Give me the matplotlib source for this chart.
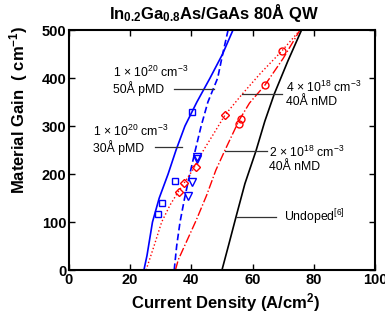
import matplotlib
matplotlib.use("Agg")
import matplotlib.pyplot as plt

plt.rcParams['font.family'] = ['Liberation Sans', 'DejaVu Sans']
plt.rcParams['mathtext.fontset'] = 'custom'
plt.rcParams['mathtext.rm'] = 'Liberation Sans'
plt.rcParams['mathtext.bf'] = 'Liberation Sans:bold'
plt.rcParams['mathtext.default'] = 'rm'

# curves (current density A/cm^2, gain cm^-1)
p30_j = [24.5, 25.5, 27.3, 29.5, 32.4, 35.0, 37.9, 41.8, 46.1, 50.2, 53.6]
p30_g = [0, 30, 100, 150, 200, 250, 300, 350, 400, 450, 500]
p50_j = [34.4, 35.2, 36.3, 37.8, 39.5, 41.3, 43.2, 45.4, 48.6, 50.3, 52.0]
p50_g = [0, 50, 100, 150, 200, 250, 300, 350, 400, 452, 500]
n4_j = [25.2, 27.8, 30.3, 33.0, 35.7, 37.6, 40.6, 44.0, 47.0, 51.0, 56.4, 62.6, 69.5, 75.5]
n4_g = [0, 50, 100, 135, 163, 181, 210, 250, 281, 323, 365, 410, 456, 500]
n2_j = [34.8, 35.7, 37.9, 41.6, 45.0, 48.0, 51.0, 55.6, 59.0, 64.0, 70.0, 75.5]
n2_g = [0, 21, 52, 104, 156, 208, 250, 312, 348, 385, 441, 500]
und_j = [50.0, 52.3, 54.6, 57.5, 61.1, 64.0, 67.1, 71.5, 76.0]
und_g = [0, 55, 111, 180, 248, 310, 367, 435, 500]

# measured points
sq_j = [29.0, 30.5, 34.7, 40.3]
sq_g = [116, 139, 186, 329]
tri_j = [38.8, 40.3, 41.7, 41.9]
tri_g = [154, 184, 231, 236]
dia_j = [35.9, 37.6, 41.4, 51.0]
dia_g = [163, 181, 215, 323]
circ_j = [55.6, 56.1, 64.2, 69.6]
circ_g = [304, 314, 385, 456]

fig = plt.figure(figsize=(3.85, 3.2), dpi=100)
ax = fig.add_axes([0.179, 0.156, 0.795, 0.75])

blue = '#0000ff'
red = '#ff0000'
ax.plot(p30_j, p30_g, color=blue, lw=1.2, ls='-')
ax.plot(p50_j, p50_g, color=blue, lw=1.2, ls=(0, (4, 2)))
ax.plot(n4_j, n4_g, color=red, lw=1.0, ls=':')
ax.plot(n2_j, n2_g, color=red, lw=1.0, ls='-.')
ax.plot(und_j, und_g, color='black', lw=1.2)

ms = 5
ax.plot(sq_j, sq_g, 's', ms=ms, mfc='none', mec=blue, mew=1)
ax.plot(tri_j, tri_g, 'v', ms=ms + 1, mfc='none', mec=blue, mew=1)
ax.plot(dia_j, dia_g, 'D', ms=ms - 0.5, mfc='none', mec=red, mew=1)
ax.plot(circ_j, circ_g, 'o', ms=ms, mfc='none', mec=red, mew=1)

# labels with leader lines
lc = '#333333'
fs = 8.8
ax.plot([34.3, 47.5], [377, 377], color=lc, lw=0.9)
ax.text(14.4, 395, '1 × 10$^{20}$ cm$^{-3}$\n50Å pMD', fontsize=fs,
        va='center', ha='left', linespacing=1.1)
ax.plot([28.1, 36.8], [256, 256], color=lc, lw=0.9)
ax.text(7.8, 273, '1 × 10$^{20}$ cm$^{-3}$\n30Å pMD', fontsize=fs,
        va='center', ha='left', linespacing=1.1)
ax.plot([56.4, 69.5], [367, 367], color=lc, lw=0.9)
ax.text(71, 367, '4 × 10$^{18}$ cm$^{-3}$\n40Å nMD', fontsize=fs,
        va='center', ha='left', linespacing=1.1)
ax.plot([51, 64.6], [248, 248], color=lc, lw=0.9)
ax.text(65.4, 231, '2 × 10$^{18}$ cm$^{-3}$\n40Å nMD', fontsize=fs,
        va='center', ha='left', linespacing=1.1)
ax.plot([54.6, 67.8], [111, 111], color=lc, lw=0.9)
ax.text(70.3, 111, 'Undoped$^{[6]}$', fontsize=fs, va='center', ha='left')

ax.set_xlim(0, 100)
ax.set_ylim(0, 500)
ax.set_xticks([0, 20, 40, 60, 80, 100])
ax.set_yticks([0, 100, 200, 300, 400, 500])
ax.tick_params(direction='in', length=4, width=1, top=True, right=True,
               labelsize=10.5, pad=2)
for lab in ax.get_xticklabels() + ax.get_yticklabels():
    lab.set_fontweight('bold')
for s in ax.spines.values():
    s.set_linewidth(1.5)

fig.text(0.587, 0.053, 'Current Density (A/cm$^{\\mathbf{2}}$)', fontsize=12,
         fontweight='bold', ha='center', va='center')
fig.text(0.047, 0.656, 'Material Gain  ( cm$^{\\mathbf{-1}}$)', fontsize=12,
         fontweight='bold', ha='center', va='center', rotation=90)
fig.text(0.556, 0.96, 'In$_{\\mathbf{0.2}}$Ga$_{\\mathbf{0.8}}$As/GaAs 80Å QW',
         fontsize=12, fontweight='bold', ha='center', va='center')

fig.savefig('out.png', dpi=100)
